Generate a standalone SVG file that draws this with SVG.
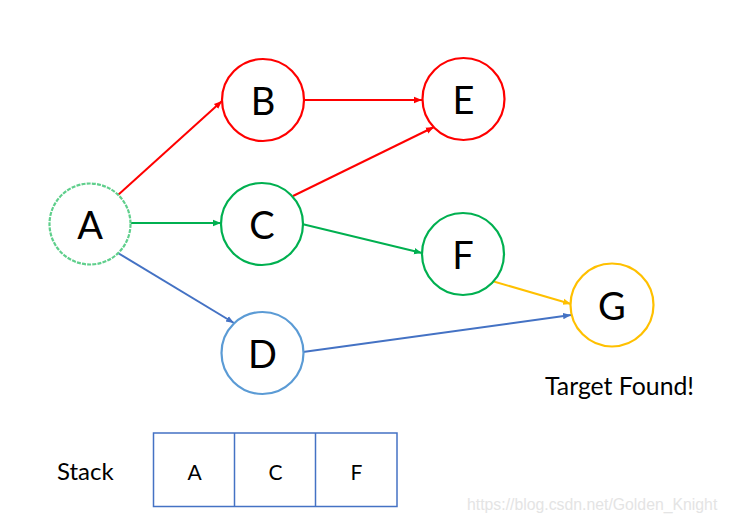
<svg xmlns="http://www.w3.org/2000/svg" width="729" height="523" viewBox="0 0 729 523">
<style>
.n{fill:#fff;stroke-width:2.2}
.lbl{font-family:Lato,"Open Sans",sans-serif;font-size:38px;fill:#000;text-anchor:middle}
.e{fill:none;stroke-width:2}
.t{font-family:Lato,"Open Sans",sans-serif;fill:#000}
</style>
<defs>
<marker id="mr" viewBox="0 0 10 10" refX="10" refY="5" markerWidth="4" markerHeight="4" orient="auto" markerUnits="strokeWidth"><path d="M0,1 L10,5 L0,9 z" fill="#ff0000"/></marker>
<marker id="mg" viewBox="0 0 10 10" refX="10" refY="5" markerWidth="4" markerHeight="4" orient="auto" markerUnits="strokeWidth"><path d="M0,1 L10,5 L0,9 z" fill="#00b050"/></marker>
<marker id="mb" viewBox="0 0 10 10" refX="10" refY="5" markerWidth="4" markerHeight="4" orient="auto" markerUnits="strokeWidth"><path d="M0,1 L10,5 L0,9 z" fill="#4472c4"/></marker>
<marker id="my" viewBox="0 0 10 10" refX="10" refY="5" markerWidth="4" markerHeight="4" orient="auto" markerUnits="strokeWidth"><path d="M0,1 L10,5 L0,9 z" fill="#ffc000"/></marker>
</defs>
<rect width="729" height="523" fill="#fff"/>
<g id="connectors">
<line class="e" x1="118" y1="195" x2="222" y2="101" stroke="#ff0000" marker-end="url(#mr)"/>
<line class="e" x1="304" y1="100" x2="422" y2="100" stroke="#ff0000" marker-end="url(#mr)"/>
<line class="e" x1="293" y1="196" x2="434" y2="127" stroke="#ff0000" marker-end="url(#mr)"/>
<line class="e" x1="131" y1="223" x2="221" y2="223" stroke="#00b050" marker-end="url(#mg)"/>
<line class="e" x1="302" y1="224" x2="422" y2="253" stroke="#00b050" marker-end="url(#mg)"/>
<line class="e" x1="118" y1="253" x2="234" y2="323" stroke="#4472c4" marker-end="url(#mb)"/>
<line class="e" x1="303" y1="352" x2="571" y2="315" stroke="#4472c4" marker-end="url(#mb)"/>
<line class="e" x1="492" y1="281" x2="571" y2="304" stroke="#ffc000" marker-end="url(#my)"/>
</g>
<g id="node-A"><circle class="n" cx="90" cy="224" r="40.5" stroke="#5fcf8c" stroke-dasharray="4 1.2"/><text class="lbl" x="90" y="239">A</text></g>
<g id="node-B"><circle class="n" cx="263" cy="100" r="41" stroke="#ff0000"/><text class="lbl" x="263" y="115">B</text></g>
<g id="node-C"><circle class="n" cx="262" cy="224" r="41" stroke="#00b050"/><text class="lbl" x="262" y="239">C</text></g>
<g id="node-D"><circle class="n" cx="262.5" cy="353" r="41" stroke="#5b9bd5"/><text class="lbl" x="262.5" y="368">D</text></g>
<g id="node-E"><circle class="n" cx="463.5" cy="99" r="41" stroke="#ff0000"/><text class="lbl" x="463.5" y="114">E</text></g>
<g id="node-F"><circle class="n" cx="463" cy="254" r="41" stroke="#00b050"/><text class="lbl" x="463" y="269">F</text></g>
<g id="node-G"><circle class="n" cx="612" cy="305" r="41.5" stroke="#ffc000"/><text class="lbl" x="612" y="320">G</text></g>
<text class="t" x="545" y="395" font-size="24.8">Target Found!</text>
<g id="stack">
<text class="t" x="57" y="480" font-size="24">Stack</text>
<rect x="153.5" y="433" width="243.5" height="73.5" fill="none" stroke="#4472c4" stroke-width="1.5"/>
<line x1="234.5" y1="433" x2="234.5" y2="506.5" stroke="#4472c4" stroke-width="1.5"/>
<line x1="315.5" y1="433" x2="315.5" y2="506.5" stroke="#4472c4" stroke-width="1.5"/>
<text class="t" x="194.5" y="480" font-size="21" text-anchor="middle">A</text>
<text class="t" x="275.5" y="480" font-size="21" text-anchor="middle">C</text>
<text class="t" x="356.5" y="480" font-size="21" text-anchor="middle">F</text>
</g>
<text x="467" y="510" font-family="Liberation Sans,Arial,sans-serif" font-size="15.8" fill="#e4e4e4">https://blog.csdn.net/Golden_Knight</text>
</svg>
